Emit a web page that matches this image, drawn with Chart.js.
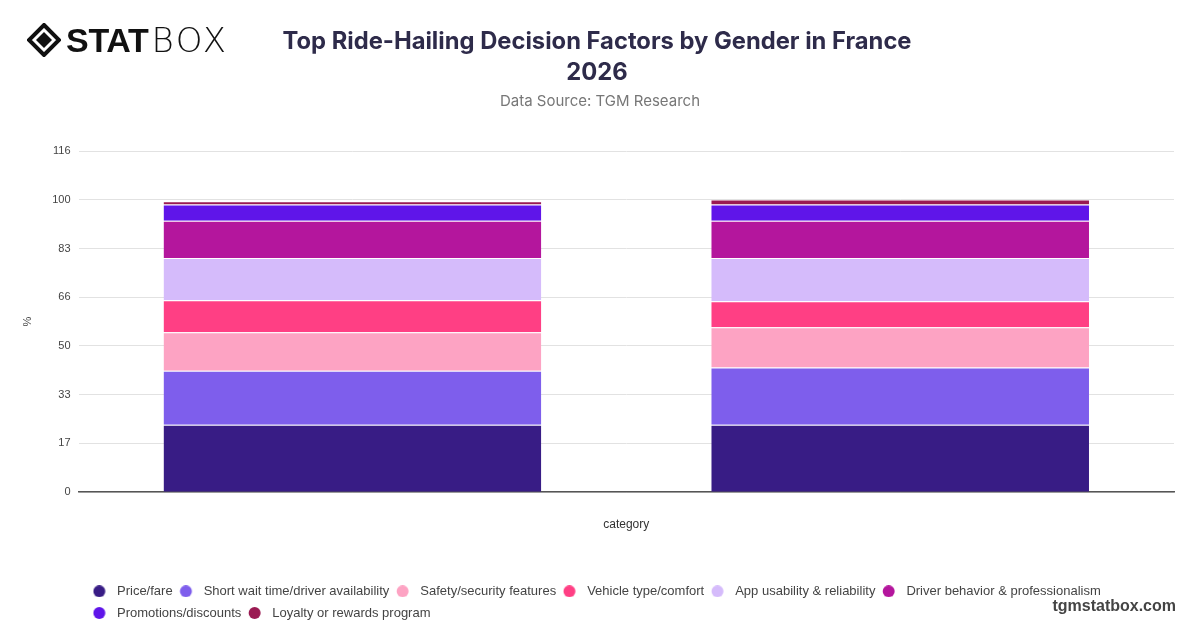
<!DOCTYPE html>
<html>
<head>
<meta charset="utf-8">
<script src="https://cdn.jsdelivr.net/npm/chart.js@4.4.1/dist/chart.umd.min.js"></script>
<style>
  html, body { margin: 0; padding: 0; background: #fff; }
  .page { position: relative; width: 1200px; height: 628px; overflow: hidden; font-family: Inter, "Liberation Sans", Arial, sans-serif; }
  .chart-box { position: absolute; left: 0; top: 0; width: 1200px; height: 628px; }
  .logo { position: absolute; left: 27px; top: 23px; height: 34px; display: flex; align-items: center; }
  .logo svg { display: block; margin-right: 5px; }
  .logo .word { font-size: 34px; line-height: 34px; color: #111; white-space: nowrap; }
  .logo .word b { font-family: "Liberation Sans", Arial, sans-serif; font-weight: 700; letter-spacing: -0.3px; }
  .logo .word span { font-family: "DejaVu Sans", sans-serif; font-weight: 200; letter-spacing: 2.5px; margin-left: 3px; }
  .title { position: absolute; left: 0; width: 1194px; top: 25px; text-align: center; font-size: 23.75px; line-height: 31px; font-weight: 700; color: #2e2b4a; }
  .subtitle { position: absolute; left: 0; width: 1200px; top: 91px; text-align: center; font-size: 15px; line-height: 20px; color: #777; }
  .brand { position: absolute; right: 24px; top: 596px; font-family: "Liberation Sans", Arial, sans-serif; font-size: 16px; line-height: 20px; font-weight: 700; color: #444; }
</style>
</head>
<body>
<div class="page">
  <div class="chart-box"><canvas id="chart"></canvas></div>
  <div class="logo">
    <svg width="34" height="34" viewBox="0 0 34 34">
      <path d="M17 2 L32 17 L17 32 L2 17 Z" fill="none" stroke="#111" stroke-width="4"/>
      <path d="M17 9 L25 17 L17 25 L9 17 Z" fill="#111"/>
    </svg>
    <div class="word"><b>STAT</b><span>BOX</span></div>
  </div>
  <div class="title">Top Ride-Hailing Decision Factors by Gender in France<br>2026</div>
  <div class="subtitle">Data Source: TGM Research</div>
  <div class="brand">tgmstatbox.com</div>
</div>
<script>
// categories (x ticks are hidden in the original)
const categories = ['Male', 'Female'];

// series, in stacking order (bottom to top)
const seriesNames = [
  'Price/fare',
  'Short wait time/driver availability',
  'Safety/security features',
  'Vehicle type/comfort',
  'App usability & reliability',
  'Driver behavior & professionalism',
  'Promotions/discounts',
  'Loyalty or rewards program'
];
const priceFare = [22.9, 22.9];
const shortWait = [18.4, 19.5];
const safety = [13.1, 13.7];
const vehicle = [10.9, 8.8];
const appUsability = [14.3, 14.7];
const driverBehavior = [12.7, 12.7];
const promotions = [5.5, 5.5];
const loyalty = [1.1, 1.7];

const seriesColors = ['#381c85', '#7e5eec', '#fda3c3', '#ff3f84', '#d5bbfb', '#b4169d', '#5f15e9', '#9a1a52'];

// y axis: 0..116 in seven equal steps, labels rounded
const yMax = 116;
const yTickLabels = ['0', '17', '33', '50', '66', '83', '100', '116'];

const seriesValues = [priceFare, shortWait, safety, vehicle, appUsability, driverBehavior, promotions, loyalty];

// round legend markers, circle a bit left of the box centre
function legendDot(color) {
  const c = document.createElement('canvas');
  c.width = 20;
  c.height = 12;
  const ctx = c.getContext('2d');
  ctx.fillStyle = color;
  ctx.beginPath();
  ctx.arc(6.7, 6, 6, 0, Math.PI * 2);
  ctx.fill();
  return c;
}
const dots = seriesColors.map(legendDot);

// legend starts further right than the y axis
const legendShift = {
  id: 'legendShift',
  beforeDraw(chart) {
    chart.legend.left = 86;
    chart.legend.top += 1.5;
  }
};

new Chart(document.getElementById('chart'), {
  type: 'bar',
  data: {
    labels: categories,
    datasets: seriesNames.map((name, i) => ({
      label: name,
      data: seriesValues[i],
      backgroundColor: seriesColors[i],
      borderColor: 'rgba(255,255,255,0.16)',
      borderWidth: { top: 1, bottom: 0, left: 0, right: 0 },
      borderSkipped: false,
      categoryPercentage: 0.8,
      barPercentage: 0.862
    }))
  },
  options: {
    responsive: true,
    maintainAspectRatio: false,
    animation: false,
    layout: { padding: { top: 151, left: 10, right: 26, bottom: 0 } },
    plugins: {
      tooltip: { enabled: false },
      legend: {
        position: 'bottom',
        align: 'start',
        labels: {
          usePointStyle: true,
          pointStyleWidth: 15.8,
          padding: 8.7,
          color: '#444',
          font: { family: 'Liberation Sans', size: 13 },
          generateLabels(chart) {
            const items = Chart.defaults.plugins.legend.labels.generateLabels(chart);
            items.forEach((it, i) => { it.pointStyle = dots[i]; });
            return items;
          }
        }
      }
    },
    scales: {
      x: {
        stacked: true,
        grid: { display: false, drawTicks: false },
        border: { display: true, color: '#555', width: 1.5 },
        ticks: { display: false },
        title: {
          display: true,
          text: 'category',
          color: '#333',
          font: { family: 'Liberation Sans', size: 12 },
          padding: { top: 25, bottom: 43 }
        }
      },
      y: {
        stacked: true,
        min: 0,
        max: yMax,
        afterBuildTicks(axis) {
          axis.ticks = yTickLabels.map((_, i) => ({ value: i * yMax / (yTickLabels.length - 1) }));
        },
        grid: { color: '#e2e2e2', drawTicks: false },
        border: { display: false },
        ticks: {
          padding: 8,
          color: '#444',
          font: { family: 'Liberation Sans', size: 11 },
          callback: (v, i) => yTickLabels[i]
        },
        title: {
          display: true,
          text: '%',
          color: '#444',
          font: { family: 'Liberation Sans', size: 11 },
          padding: { top: 11, bottom: 10 }
        }
      }
    }
  },
  plugins: [legendShift]
});
</script>
</body>
</html>
